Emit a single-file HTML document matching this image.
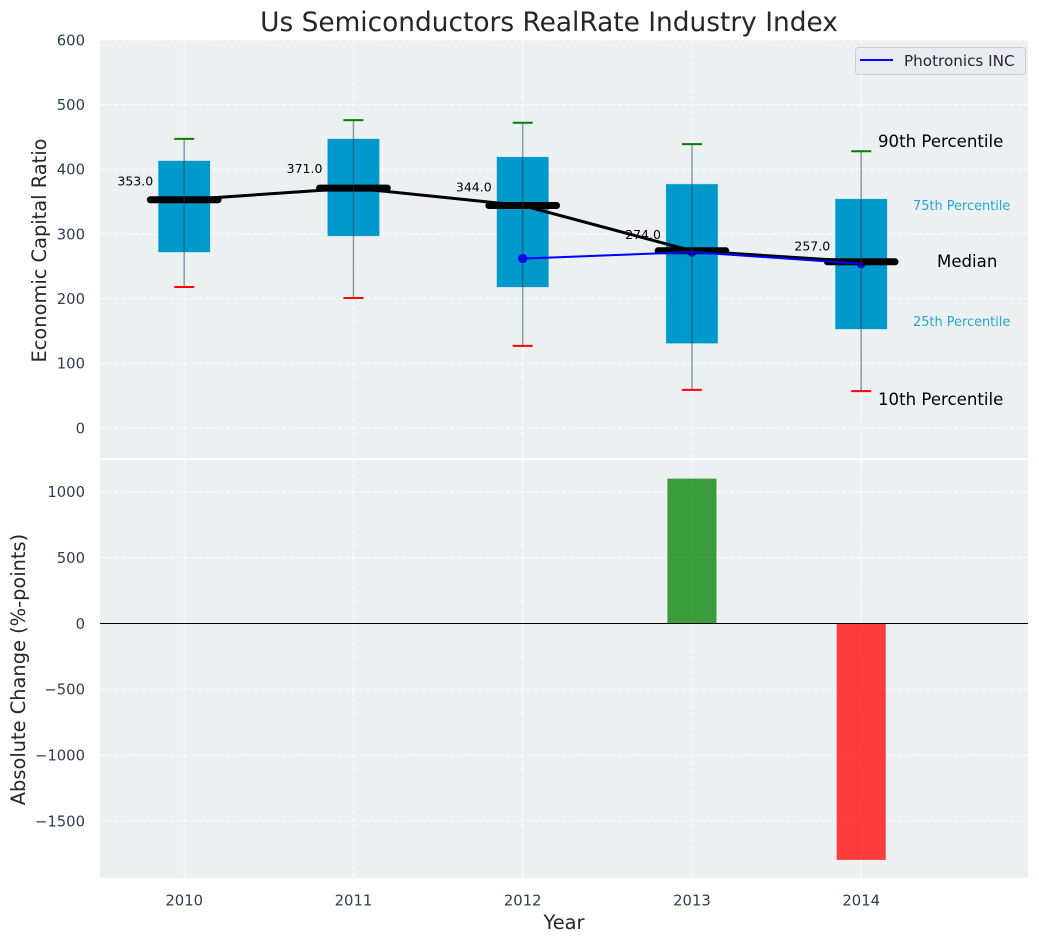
<!DOCTYPE html>
<html>
<head>
<meta charset="utf-8">
<title>Us Semiconductors RealRate Industry Index</title>
<style>
html,body{margin:0;padding:0;background:#fff;}
svg{display:block;font-family:"DejaVu Sans","Liberation Sans",sans-serif;}
</style>
</head>
<body>
<svg id="chart" xmlns="http://www.w3.org/2000/svg" width="1039" height="942" viewBox="0 0 1039 942">
  <defs>
    <clipPath id="clip-top"><rect x="100" y="40" width="928" height="418.5"/></clipPath>
    <clipPath id="clip-bottom"><rect x="100" y="460" width="928" height="418"/></clipPath>
  </defs>
  <rect x="100" y="40" width="928" height="418.5" fill="#ecf0f1"/>
  <rect x="100" y="460" width="928" height="418" fill="#ecf0f1"/>
  <g id="grid-top" clip-path="url(#clip-top)"></g>
  <g id="grid-bottom" clip-path="url(#clip-bottom)"></g>
  <g id="marks-top" clip-path="url(#clip-top)"></g>
  <g id="marks-bottom" clip-path="url(#clip-bottom)"></g>
  <g id="ticks" font-size="14.8" fill="#2c3e50"></g>

  <text x="549" y="31" text-anchor="middle" font-size="26.4" fill="#262626">Us Semiconductors RealRate Industry Index</text>
  <text transform="translate(46,250.5) rotate(-90)" text-anchor="middle" font-size="19.4" fill="#262626">Economic Capital Ratio</text>
  <text transform="translate(25,669.5) rotate(-90)" text-anchor="middle" font-size="19.4" fill="#262626">Absolute Change (%-points)</text>
  <text x="564" y="929" text-anchor="middle" font-size="19.4" fill="#262626">Year</text>

  <text x="878" y="147" font-size="16.6" fill="#000">90th Percentile</text>
  <text x="913" y="210" font-size="12.9" fill="#0099cc" fill-opacity="0.85">75th Percentile</text>
  <text x="937" y="267" font-size="16.6" fill="#000">Median</text>
  <text x="913" y="326" font-size="12.9" fill="#0099cc" fill-opacity="0.85">25th Percentile</text>
  <text x="878" y="405" font-size="16.6" fill="#000">10th Percentile</text>

  <g>
    <rect x="855.5" y="47.5" width="170" height="27" rx="3" fill="#eaeaf2" fill-opacity="0.9" stroke="#cccccc"/>
    <line x1="860" y1="60" x2="893" y2="60" stroke="#0000ff" stroke-width="2"/>
    <text x="904" y="66" font-size="15.2" fill="#262626">Photronics INC</text>
  </g>
</svg>
<script>
var years = [2010, 2011, 2012, 2013, 2014];
var p90 = [447, 476, 472, 439, 428];
var p75 = [413, 447, 419, 377, 354];
var median = [353, 371, 344, 274, 257];
var p25 = [272, 297, 218, 131, 153];
var p10 = [218, 201, 127, 59, 57];
var companyYears = [2012, 2013, 2014];
var companyValues = [262, 272, 254];
var changeYears = [2013, 2014];
var changeValues = [1100, -1795];
var topTicks = [0, 100, 200, 300, 400, 500, 600];
var bottomTicks = [-1500, -1000, -500, 0, 500, 1000];

function xScale(v) { return 184.2 + (v - 2010) * 169.25; }
function yTop(v) { return 428 - v * 0.6467; }
function yBottom(v) { return 623.5 - v * 0.1317; }
function width(d) { return d * 169.25; }

var NS = 'http://www.w3.org/2000/svg';
function make(parent, tag, attrs) {
  var el = document.createElementNS(NS, tag);
  for (var k in attrs) { el.setAttribute(k, attrs[k]); }
  parent.appendChild(el);
  return el;
}
var gridTop = document.getElementById('grid-top');
var gridBottom = document.getElementById('grid-bottom');
var marksTop = document.getElementById('marks-top');
var marksBottom = document.getElementById('marks-bottom');
var ticks = document.getElementById('ticks');
function gridAttrs(x1, y1, x2, y2) {
  return { x1: x1, y1: y1, x2: x2, y2: y2, stroke: '#ffffff', 'stroke-width': 1, 'stroke-dasharray': '4.5,2.5' };
}

topTicks.forEach(function (t) {
  var g = make(gridTop, 'line', gridAttrs(100, yTop(t), 1028, yTop(t)));
  
  
  var l = make(ticks, 'text', { x: 85, y: yTop(t) + 5.3, 'text-anchor': 'end' });
  l.textContent = String(t);
  
  
});
bottomTicks.forEach(function (t) {
  var g = make(gridBottom, 'line', gridAttrs(100, yBottom(t), 1028, yBottom(t)));
  
  
  var l = make(ticks, 'text', { x: 85, y: yBottom(t) + 5.3, 'text-anchor': 'end' });
  l.textContent = String(t).replace('-', '\u2212');
  
  
});
years.forEach(function (yr) {
  var x = xScale(yr);
  var a = make(gridTop, 'line', gridAttrs(x, 40, x, 458.5));
  
  
  var b = make(gridBottom, 'line', gridAttrs(x, 460, x, 878));
  
  
  var l = make(ticks, 'text', { x: x, y: 905.3, 'text-anchor': 'middle' });
  l.textContent = String(yr);
  
  
});

/* boxes */
years.forEach(function (yr, i) {
  var x = xScale(yr);
  var w = width(0.305);
  var box = make(marksTop, 'rect', { x: x - w / 2, y: yTop(p75[i]), width: w, height: yTop(p25[i]) - yTop(p75[i]), fill: '#0099cc', stroke: '#0099cc', 'stroke-opacity': 0.2, 'stroke-width': 1 });
  
  
});

/* company dots (under the median bars) */
companyYears.forEach(function (yr, i) {
  var dot = make(marksTop, 'circle', { cx: xScale(yr), cy: yTop(companyValues[i]), r: 4.6, fill: '#0000ff' });
  
  
});

/* median bars and labels */
years.forEach(function (yr, i) {
  var x = xScale(yr);
  var y = yTop(median[i]);
  var bar = make(marksTop, 'line', { x1: x - width(0.2), y1: y, x2: x + width(0.2), y2: y, stroke: '#000', 'stroke-width': 7, 'stroke-linecap': 'round' });
  
  
  var label = make(marksTop, 'text', { x: x - 31, y: yTop(median[i] * 1.05 + 11.5) + 4.5, 'text-anchor': 'end', 'font-size': 12.5, fill: '#000' });
  label.textContent = median[i].toFixed(1);
  
  
});

/* median trend line */
var medianLine = make(marksTop, 'polyline', {
  points: years.map(function (yr, i) { return xScale(yr) + ',' + yTop(median[i]); }).join(' '),
  fill: 'none', stroke: '#000', 'stroke-width': 3
});



/* company line */
var companyLine = make(marksTop, 'polyline', {
  points: companyYears.map(function (yr, i) { return xScale(yr) + ',' + yTop(companyValues[i]); }).join(' '),
  fill: 'none', stroke: '#0000ff', 'stroke-width': 2
});



/* whiskers and caps */
years.forEach(function (yr, i) {
  var x = xScale(yr);
  var w = make(marksTop, 'line', { x1: x, y1: yTop(p90[i]), x2: x, y2: yTop(p10[i]), stroke: '#2c3e50', 'stroke-opacity': 0.5, 'stroke-width': 1.5 });
  
  
  var capHigh = make(marksTop, 'line', { x1: x - 10, y1: yTop(p90[i]), x2: x + 10, y2: yTop(p90[i]), stroke: '#008000', 'stroke-width': 2 });
  
  
  var capLow = make(marksTop, 'line', { x1: x - 10, y1: yTop(p10[i]), x2: x + 10, y2: yTop(p10[i]), stroke: '#ff0000', 'stroke-width': 2 });
  
  
});

/* change bars */
changeYears.forEach(function (yr, i) {
  var v = changeValues[i];
  var w = width(0.29);
  var top = Math.min(yBottom(v), yBottom(0));
  var bar = make(marksBottom, 'rect', { x: xScale(yr) - w / 2, y: top, width: w, height: Math.abs(yBottom(v) - yBottom(0)), fill: v >= 0 ? '#008000' : '#ff0000', 'fill-opacity': 0.75 });
  
  
});
var zero = make(marksBottom, 'line', { x1: 100, y1: yBottom(0), x2: 1028, y2: yBottom(0), stroke: '#000', 'stroke-width': 1.1 });


</script>
</body>
</html>
